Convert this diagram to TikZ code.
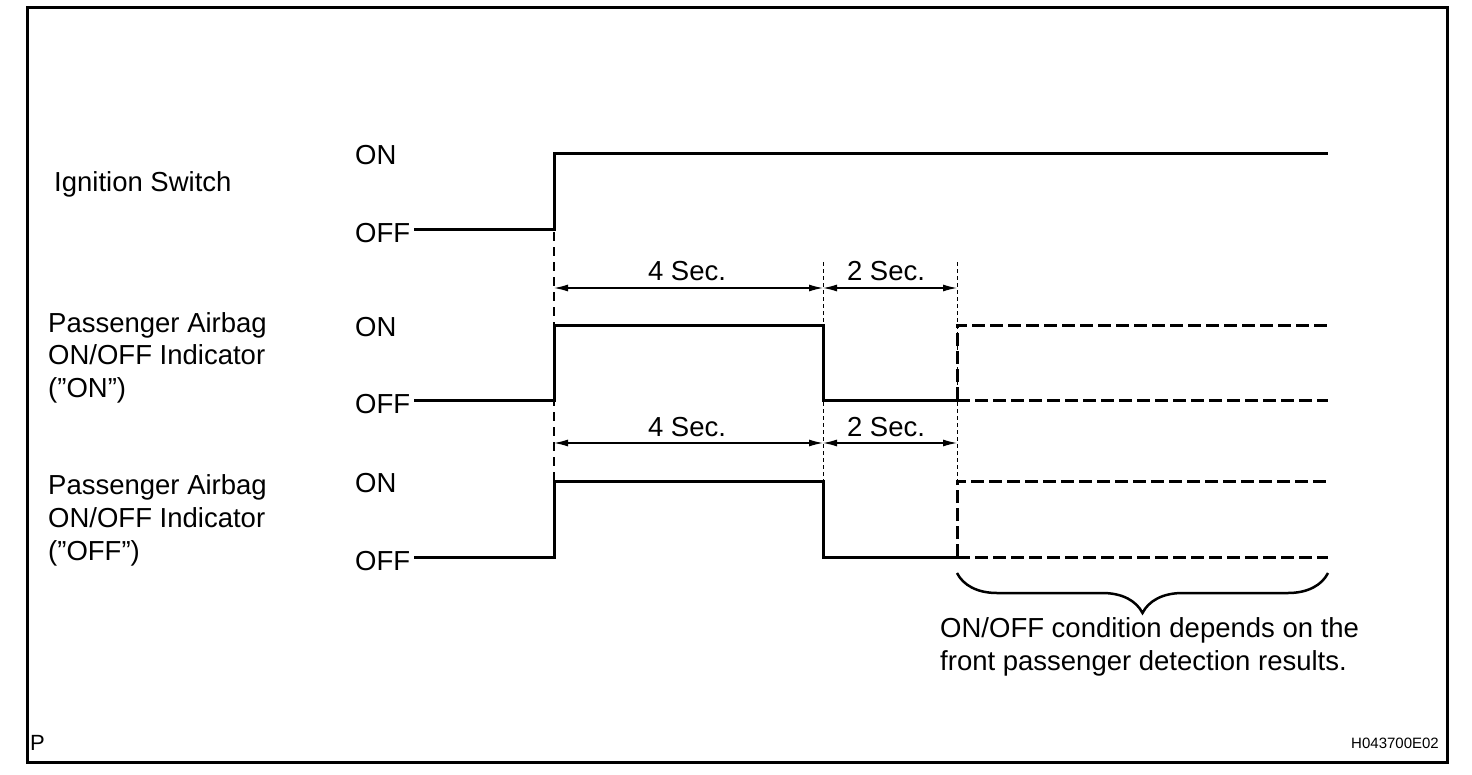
\documentclass[tikz,border=0pt]{standalone}
\usepackage{fontspec}
\setmainfont{Liberation Sans}
\usetikzlibrary{arrows.meta,decorations.pathreplacing}
\begin{document}
\begin{tikzpicture}[x=1pt,y=-1pt,
  lbl/.style={font=\fontsize{27.5}{32}\selectfont, inner sep=0pt, anchor=base west},
  seclbl/.style={font=\fontsize{27.5}{32}\selectfont, inner sep=0pt, anchor=base},
  sig/.style={line width=3pt, line join=miter, line cap=butt},
  sigdash/.style={line width=3pt, dash pattern=on 13pt off 5pt},
  guide/.style={line width=1.2pt, dash pattern=on 9pt off 6pt},
  guidefine/.style={line width=1pt, dash pattern=on 4pt off 3pt},
  dim/.style={line width=1.2pt, {Latex[length=14pt,width=7pt]}-{Latex[length=14pt,width=7pt]}},
  bracestyle/.style={line width=2.5pt, decorate, decoration={brace, mirror, amplitude=40pt}},
]
\useasboundingbox (0,0) rectangle (1472,774);
\draw[line width=3pt] (27,7) rectangle (1447,762);

% left labels
\node[lbl] (ign) at (54,191) {Ignition Switch};
\node[lbl] (pa1) at (48,332) {Passenger Airbag};
\node[lbl] (pa2) at (48,364.5) {ON/OFF Indicator};
\node[lbl] (pa3) at (48,397) {(”ON”)};
\node[lbl] (pb1) at (48,494) {Passenger Airbag};
\node[lbl] (pb2) at (48,527) {ON/OFF Indicator};
\node[lbl] (pb3) at (48,560) {(”OFF”)};

% state labels
\node[lbl] (ion) at (355,164) {ON};
\node[lbl] (ioff) at (355,242) {OFF};
\node[lbl] (aon) at (355,336) {ON};
\node[lbl] (aoff) at (355,413) {OFF};
\node[lbl] (bon) at (355,492) {ON};
\node[lbl] (boff) at (355,570) {OFF};

% ignition signal
\coordinate (i0) at (414,229);
\coordinate (i1) at (554,229);
\coordinate (i2) at (554,153);
\coordinate (i3) at (1328,153);
\draw[sig] (i0) -- (i1) -- (i2) -- (i3);

% row 2 signal
\coordinate (a0) at (414,400);
\coordinate (a1) at (554,400);
\coordinate (a2) at (554,325);
\coordinate (a3) at (823,325);
\coordinate (a4) at (823,400);
\coordinate (a5) at (957,400);
\coordinate (a6) at (957,325);
\coordinate (a7) at (1328,325);
\coordinate (a8) at (1328,400);
\draw[sig] (a0) -- (a1) -- (a2) -- (a3) -- (a4) -- (a5);
\draw[sigdash] (a5) -- (a6) -- (a7);
\draw[sigdash] (a5) -- (a8);

% row 3 signal
\coordinate (b0) at (414,557);
\coordinate (b1) at (554,557);
\coordinate (b2) at (554,481);
\coordinate (b3) at (823,481);
\coordinate (b4) at (823,557);
\coordinate (b5) at (957,557);
\coordinate (b6) at (957,481);
\coordinate (b7) at (1328,481);
\coordinate (b8) at (1328,557);
\draw[sig] (b0) -- (b1) -- (b2) -- (b3) -- (b4) -- (b5);
\draw[sigdash] (b5) -- (b6) -- (b7);
\draw[sigdash] (b5) -- (b8);

% guide lines
\coordinate (g1t) at (554,232);
\coordinate (g2t) at (823,262);
\coordinate (g3t) at (957,262);
\draw[guide] (g1t) -- (b1);
\draw[guidefine] (g2t) -- (b3);
\draw[guidefine] (g3t) -- (b6);

% dimension arrows
\coordinate (da1) at (554,288);
\coordinate (da2) at (823,288);
\coordinate (da3) at (957,288);
\coordinate (db1) at (554,443);
\coordinate (db2) at (823,443);
\coordinate (db3) at (957,443);
\draw[dim] (da1) -- (da2);
\draw[dim] (da2) -- (da3);
\draw[dim] (db1) -- (db2);
\draw[dim] (db2) -- (db3);
\node[seclbl] (s4a) at (687,280) {4 Sec.};
\node[seclbl] (s2a) at (886,280) {2 Sec.};
\node[seclbl] (s4b) at (687,436) {4 Sec.};
\node[seclbl] (s2b) at (886,436) {2 Sec.};

% brace
\coordinate (br1) at (957,573);
\coordinate (br2) at (1328,573);
\draw[bracestyle] (br1) -- (br2);
\node[lbl] (c1) at (940,637) {ON/OFF condition depends on the};
\node[lbl] (c2) at (940,670) {front passenger detection results.};

% corner marks
\node[lbl, font=\fontsize{22}{26}\selectfont] (pmark) at (30,750) {P};
\node[inner sep=0pt, anchor=base east, font=\fontsize{15}{18}\selectfont] (code) at (1439,748) {H043700E02};
\end{tikzpicture}
\end{document}
